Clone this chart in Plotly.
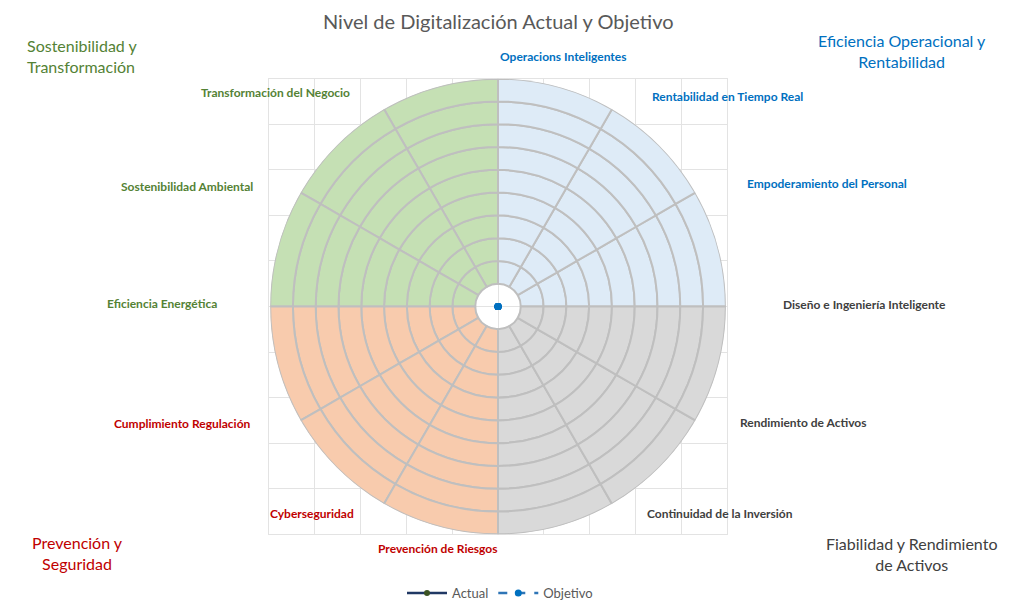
import plotly.graph_objects as go

# categorías del radar, empezando arriba y girando en sentido horario
categorias = [
    "Operacions Inteligentes",
    "Rentabilidad en Tiempo Real",
    "Empoderamiento del Personal",
    "Diseño e Ingeniería Inteligente",
    "Rendimiento de Activos",
    "Continuidad de la Inversión",
    "Prevención de Riesgos",
    "Cyberseguridad",
    "Cumplimiento Regulación",
    "Eficiencia Energética",
    "Sostenibilidad Ambiental",
    "Transformación del Negocio",
]
actual = [0] * 12
objetivo = [0] * 12

# fondo: 9 anillos de nivel (1..10) y 12 sectores de 30 grados
niveles = [1, 2, 3, 4, 5, 6, 7, 8, 9]
sectores = [15, 45, 75, 105, 135, 165, 195, 225, 255, 285, 315, 345]
cuadrante_sector = ["azul"] * 3 + ["verde"] * 3 + ["naranja"] * 3 + ["gris"] * 3

relleno = {"azul": "#DEEBF7", "verde": "#C5E0B4", "naranja": "#F8CBAD", "gris": "#D9D9D9"}
texto = {"azul": "#0070C0", "verde": "#548235", "naranja": "#C00000", "gris": "#404040"}

# la página deja 8px de margen en el body
W, H = 1016, 600
OFF = 8
cx, cy, R = 498, 308, 229


def px(x, y):
    return (x - OFF) / W, 1 - (y - OFF) / H


fig = go.Figure()

# traza vacía para que se dibuje la cuadrícula de fondo
fig.add_trace(go.Scatter(x=[], y=[], showlegend=False, hoverinfo="skip"))

# segmentos del fondo (anillos x sectores)
for base in niveles:
    fig.add_trace(
        go.Barpolar(
            r=[1] * len(sectores),
            base=[base] * len(sectores),
            theta=sectores,
            width=[30] * len(sectores),
            marker=dict(
                color=[relleno[c] for c in cuadrante_sector],
                line=dict(color="#BFBFBF", width=2),
            ),
            hoverinfo="skip",
            showlegend=False,
        )
    )

angulos = [90 - 30 * i for i in range(len(categorias))]

fig.add_trace(
    go.Scatterpolar(
        r=actual + actual[:1],
        theta=angulos + angulos[:1],
        text=categorias + categorias[:1],
        mode="lines+markers",
        name="Actual",
        line=dict(color="#203864", width=2.5),
        marker=dict(color="#3B5323", size=6),
        hovertemplate="%{text}: %{r}<extra>Actual</extra>",
    )
)
fig.add_trace(
    go.Scatterpolar(
        r=objetivo + objetivo[:1],
        theta=angulos + angulos[:1],
        text=categorias + categorias[:1],
        mode="lines+markers",
        name="Objetivo",
        line=dict(color="#2E75B6", width=2.5, dash="dash"),
        marker=dict(color="#0070C0", size=7),
        hovertemplate="%{text}: %{r}<extra>Objetivo</extra>",
    )
)

x0, y1 = px(cx - R, cy - R)
x1, y0 = px(cx + R, cy + R)
tx_, _ = px(498, 17)
lx_, ly_ = px(500, 596)

fig.update_layout(
    width=W,
    height=H,
    margin=dict(l=0, r=0, t=0, b=0),
    paper_bgcolor="white",
    plot_bgcolor="white",
    font=dict(family="Lato", color="#595959"),
    polar=dict(
        domain=dict(x=[x0, x1], y=[y0, y1]),
        bgcolor="rgba(0,0,0,0)",
        bargap=0,
        barmode="overlay",
        radialaxis=dict(range=[0, 10], visible=False),
        angularaxis=dict(
            type="linear",
            thetaunit="degrees",
            direction="counterclockwise",
            rotation=0,
            visible=False,
        ),
    ),
    xaxis=dict(
        domain=[x0, x1], range=[0, 10], dtick=1, showticklabels=False,
        showgrid=True, gridcolor="#E3E3E3", zeroline=False,
        showline=True, mirror=True, linecolor="#E3E3E3", fixedrange=True,
    ),
    yaxis=dict(
        domain=[y0, y1], range=[0, 10], dtick=1, showticklabels=False,
        showgrid=True, gridcolor="#E3E3E3", zeroline=False,
        showline=True, mirror=True, linecolor="#E3E3E3", fixedrange=True,
    ),
    legend=dict(
        orientation="h",
        x=lx_,
        xanchor="center",
        y=ly_,
        yanchor="middle",
        font=dict(size=13, color="#595959"),
        itemwidth=40,
    ),
)

# título como anotación
fig.add_annotation(
    x=tx_, y=1, xref="paper", yref="paper",
    text="Nivel de Digitalización Actual y Objetivo",
    showarrow=False, xanchor="center", yanchor="top", borderpad=0,
    font=dict(size=20, color="#595959", family="Lato"),
)

# etiquetas de categorías (posiciones como en el original)
pos_etiquetas = [
    (563, 57), (727, 97), (827, 184), (864, 306), (803, 425), (720, 516),
    (437, 551), (312, 516), (182, 426), (162, 305), (187, 187), (275, 93),
]
cuadrante_cat = ["azul"] * 3 + ["gris"] * 3 + ["naranja"] * 3 + ["verde"] * 3
for nombre, (lx, ly), c in zip(categorias, pos_etiquetas, cuadrante_cat):
    ax, ay = px(lx, ly)
    fig.add_annotation(
        x=ax, y=ay, xref="paper", yref="paper", text=f"<b>{nombre}</b>",
        showarrow=False, xanchor="center", yanchor="middle",
        font=dict(size=12, color=texto[c], family="Lato"),
    )

# títulos de cuadrante
titulos = [
    ("Sostenibilidad y<br>Transformación", 25, 56, "left", "verde"),
    ("Eficiencia Operacional y<br>Rentabilidad", 902, 51, "center", "azul"),
    ("Prevención y<br>Seguridad", 77, 556, "center", "naranja"),
    ("Fiabilidad y Rendimiento<br>de Activos", 911, 557, "center", "gris"),
]
for t, tx, ty, al, c in titulos:
    ax, ay = px(tx, ty)
    fig.add_annotation(
        x=ax, y=ay, xref="paper", yref="paper", text=t, showarrow=False,
        xanchor=al, yanchor="middle", align=al,
        font=dict(size=16, color=texto[c], family="Lato"),
    )

fig.write_html("out.html")
